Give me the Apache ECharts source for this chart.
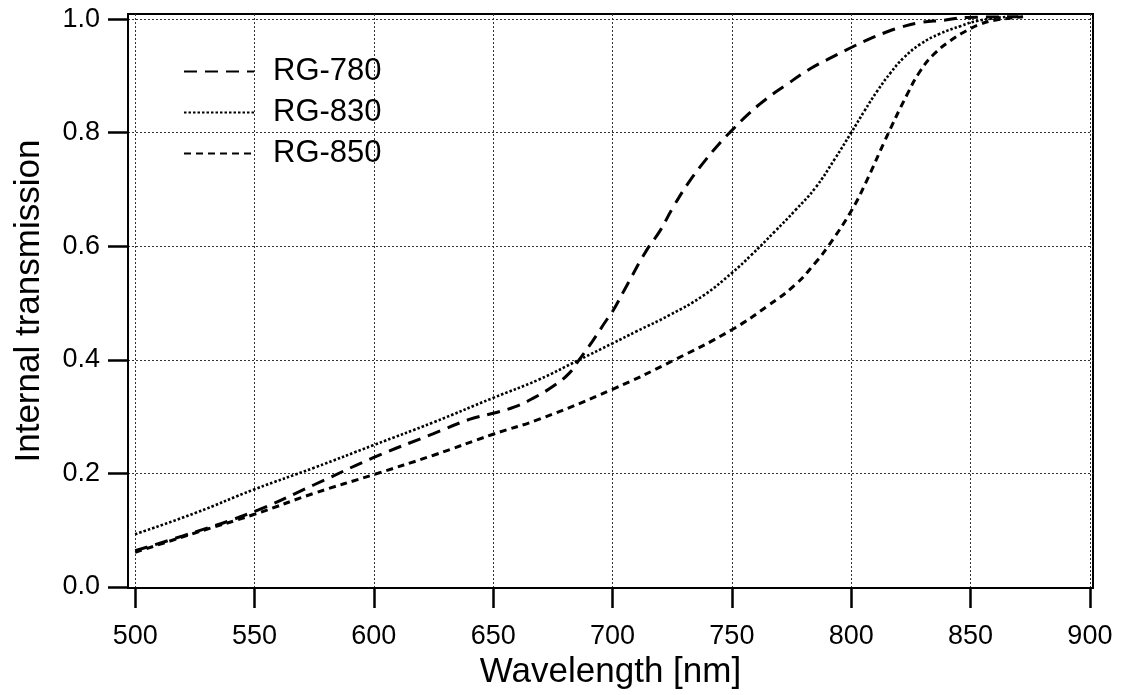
<!DOCTYPE html>
<html>
<head>
<meta charset="utf-8">
<script src="https://cdn.jsdelivr.net/npm/echarts@6/dist/echarts.min.js"></script>
<style>
html,body{margin:0;padding:0;background:#fff;}
#chart{width:1121px;height:695px;}
</style>
</head>
<body>
<div id="chart"></div>
<script>
const seriesNames = ['RG-780', 'RG-830', 'RG-850'];

const rg780X = [500, 520, 550, 575, 600, 625, 640, 650, 659, 667, 676, 682, 686, 691.5, 697, 700, 706, 714, 720, 725, 732, 739, 745, 750, 757, 764, 772, 783, 792, 800, 807, 814, 821, 829, 839, 848, 870];
const rg780Y = [0.064, 0.09, 0.133, 0.18, 0.228, 0.27, 0.295, 0.306, 0.317, 0.333, 0.356, 0.377, 0.40, 0.432, 0.467, 0.485, 0.531, 0.591, 0.628, 0.666, 0.713, 0.752, 0.782, 0.804, 0.833, 0.858, 0.882, 0.913, 0.933, 0.95, 0.964, 0.976, 0.986, 0.994, 0.998, 1.003, 1.004];

const rg830X = [500, 525, 550, 575, 600, 625, 650, 669, 686, 700, 710, 724, 738, 750, 758, 768, 776.5, 785, 793, 800, 805.5, 811, 816.6, 822, 829, 837, 846, 853, 865];
const rg830Y = [0.093, 0.13, 0.172, 0.21, 0.25, 0.29, 0.333, 0.365, 0.40, 0.429, 0.45, 0.479, 0.513, 0.553, 0.584, 0.626, 0.663, 0.703, 0.753, 0.80, 0.838, 0.874, 0.906, 0.932, 0.956, 0.974, 0.988, 0.997, 1.004];

const rg850X = [500, 525, 550, 575, 600, 625, 650, 669, 700, 726, 750, 765, 776.5, 785, 790, 800, 807, 814, 823.5, 829, 834.6, 841.5, 848.5, 854, 860, 872];
const rg850Y = [0.061, 0.095, 0.128, 0.165, 0.198, 0.232, 0.269, 0.295, 0.348, 0.40, 0.453, 0.495, 0.532, 0.571, 0.598, 0.662, 0.72, 0.785, 0.868, 0.909, 0.938, 0.962, 0.98, 0.991, 0.998, 1.004];

const xTickValues = [500, 550, 600, 650, 700, 750, 800, 850, 900];
const yTickValues = [0, 0.2, 0.4, 0.6, 0.8, 1.0];

function zip(xs, ys) { return xs.map((x, i) => [x, ys[i]]); }

const chart = echarts.init(document.getElementById('chart'), null, {renderer: 'canvas'});
const font = '"Liberation Sans", Arial, Helvetica, sans-serif';

const dashes = [[13, 8], [2.5, 2], [7, 5]];
const widths = [3, 2.6, 3];
const datasets = [zip(rg780X, rg780Y), zip(rg830X, rg830Y), zip(rg850X, rg850Y)];

chart.setOption({
  animation: false,
  backgroundColor: '#fff',
  textStyle: {fontFamily: font},
  grid: {
    left: 128, right: 28, top: 14, bottom: 102,
    show: true, borderColor: '#000', borderWidth: 2, backgroundColor: 'transparent'
  },
  legend: {
    orient: 'vertical',
    left: 183, top: 56,
    padding: 0,
    itemWidth: 70, itemHeight: 14, itemGap: 10,
    itemStyle: {opacity: 0, borderWidth: 0},
    textStyle: {fontSize: 31, color: '#000', fontFamily: font, padding: [0, 0, 0, 14]},
    data: seriesNames
  },
  xAxis: {
    type: 'value',
    min: 497, max: 901.3,
    splitNumber: 8,
    name: 'Wavelength [nm]',
    nameLocation: 'middle',
    nameGap: 60,
    nameTextStyle: {fontSize: 35, color: '#000', fontFamily: font},
    axisLine: {show: true, onZero: false, lineStyle: {color: '#000', width: 2}},
    axisTick: {show: true, inside: false, length: 20, lineStyle: {color: '#000', width: 2.5}, customValues: xTickValues},
    axisLabel: {fontSize: 27, color: '#000', margin: 35, fontFamily: font, customValues: xTickValues},
    splitLine: {show: true, lineStyle: {color: '#333', width: 1, type: [2, 2]}}
  },
  yAxis: {
    type: 'value',
    min: -0.002, max: 1.009,
    splitNumber: 5,
    name: 'Internal transmission',
    nameLocation: 'middle',
    nameGap: 81,
    nameTextStyle: {fontSize: 35, color: '#000', fontFamily: font},
    axisLine: {show: true, onZero: false, lineStyle: {color: '#000', width: 2}},
    axisTick: {show: true, inside: false, length: 20, lineStyle: {color: '#000', width: 2.5}, customValues: yTickValues},
    axisLabel: {fontSize: 27, color: '#000', margin: 28, fontFamily: font, customValues: yTickValues,
      formatter: v => v.toFixed(1)},
    splitLine: {show: true, lineStyle: {color: '#333', width: 1, type: [2, 2]}}
  },
  series: seriesNames.map((name, i) => ({
    name: name,
    type: 'line',
    data: datasets[i],
    symbol: 'none',
    smooth: 0.45,
    color: '#000',
    lineStyle: {color: '#000', width: widths[i], type: dashes[i]},
    z: 3
  }))
});
</script>
</body>
</html>
